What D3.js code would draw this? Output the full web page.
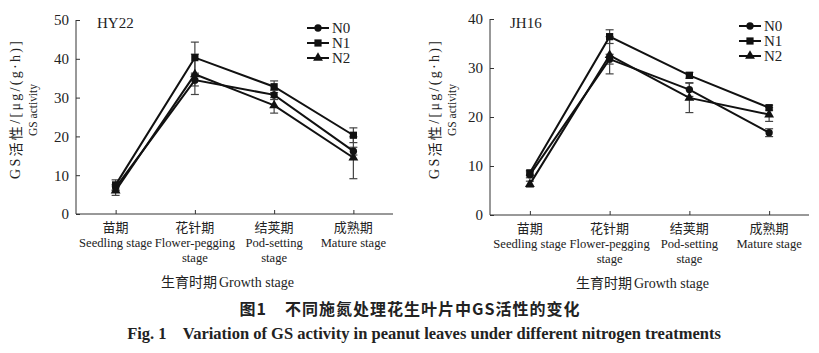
<!DOCTYPE html>
<html>
<head>
<meta charset="utf-8">
<script src="https://cdn.jsdelivr.net/npm/d3@7"></script>
<style>
  body { margin: 0; background: #fff; }
  svg { display: block; }
  text { font-family: "Liberation Serif", "Noto Sans CJK SC", serif; fill: #222; }
</style>
</head>
<body>
<div id="chart"></div>
<script>
const stagesCn = ['苗期', '花针期', '结荚期', '成熟期'];
const stagesEn = [['Seedling stage'], ['Flower-pegging', 'stage'], ['Pod-setting', 'stage'], ['Mature stage']];
const seriesNames = ['N0', 'N1', 'N2'];

// HY22
const hyN0 = [6.8, 34.5, 30.7, 16.2];
const hyN1 = [7.5, 40.3, 32.8, 20.3];
const hyN2 = [6.0, 36.0, 28.0, 14.5];
const hyErrN0 = [0.8, 1.5, 1.2, 1.0];
const hyErrN1 = [1.3, 4.0, 1.5, 1.9];
const hyErrN2 = [1.2, 5.2, 2.0, 5.4];
const hyTicks = [0, 10, 20, 30, 40, 50];

// JH16
const jhN0 = [8.2, 31.8, 25.6, 16.8];
const jhN1 = [8.6, 36.4, 28.5, 21.9];
const jhN2 = [6.3, 32.6, 23.9, 20.5];
const jhErrN0 = [0.6, 1.0, 1.4, 0.8];
const jhErrN1 = [0.5, 1.4, 0.6, 0.5];
const jhErrN2 = [0.6, 3.8, 3.0, 1.4];
const jhTicks = [0, 10, 20, 30, 40];

const width = 819, height = 353;
const svg = d3.select('#chart').append('svg')
    .attr('width', width)
    .attr('height', height);

const symbols = [d3.symbolCircle, d3.symbolSquare, d3.symbolTriangle];
const symbolSizes = [42, 52, 42];

function drawPanel(opts) {
    const g = svg.append('g');
    const x = d3.scalePoint().domain(stagesCn).range([opts.x0, opts.x1]).padding(0.5);
    const y = d3.scaleLinear().domain([0, opts.yMax]).range([opts.yBottom, opts.yTop]);

    // axes, ticks point inward
    const yAxis = g.append('g')
        .attr('transform', `translate(${opts.x0},0)`)
        .call(d3.axisRight(y).tickValues(opts.ticks).tickSize(4).tickFormat(d3.format('d')));
    yAxis.select('.domain').attr('d', `M0,${opts.yTop}V${opts.yBottom}`).attr('stroke', '#333');
    yAxis.selectAll('.tick line').attr('stroke', '#333');
    yAxis.selectAll('.tick text')
        .attr('x', -7).attr('text-anchor', 'end')
        .style('font-size', '15px').style('font-family', '"Liberation Serif", serif').attr('fill', '#222');

    const xAxis = g.append('g')
        .attr('transform', `translate(0,${opts.yBottom})`)
        .call(d3.axisTop(x).tickSize(4).tickFormat(''));
    xAxis.select('.domain').attr('d', `M${opts.x0},0H${opts.x1}`).attr('stroke', '#333');
    xAxis.selectAll('.tick line').attr('stroke', '#333');

    // category labels
    stagesCn.forEach((s, i) => {
        const t = g.append('text')
            .attr('x', x(s))
            .attr('text-anchor', 'middle')
            .style('font-size', '12.6px');
        t.append('tspan').attr('x', x(s)).attr('y', opts.yBottom + 18)
            .style('font-family', '"Noto Sans CJK SC", sans-serif').style('font-size', '13px').text(s);
        stagesEn[i].forEach((line, j) => {
            t.append('tspan').attr('x', x(s)).attr('y', opts.yBottom + 33 + j * 15).text(line);
        });
    });

    // x title
    const xt = g.append('text')
        .attr('x', (opts.x0 + opts.x1) / 2 - 7)
        .attr('y', opts.yBottom + 73)
        .attr('text-anchor', 'middle')
        .style('font-size', '14px');
    xt.append('tspan').style('font-family', '"Noto Sans CJK SC", sans-serif').text('生育时期');
    xt.append('tspan').attr('dx', 2).text('Growth stage');

    // y title, two rotated lines
    const yt = g.append('g').attr('transform', `translate(${opts.titleX},${opts.titleY}) rotate(-90)`);
    const l1 = yt.append('text')
        .attr('text-anchor', 'middle').attr('dominant-baseline', 'central')
        .attr('textLength', 138).attr('lengthAdjust', 'spacing')
        .style('font-size', '14px');
    l1.append('tspan').text('GS');
    l1.append('tspan').style('font-family', '"Noto Sans CJK SC", sans-serif').text('活性');
    l1.append('tspan').text('/[μg/(g·h)]');
    yt.append('text')
        .attr('y', 17)
        .attr('text-anchor', 'middle').attr('dominant-baseline', 'central')
        .attr('textLength', 52).attr('lengthAdjust', 'spacingAndGlyphs')
        .style('font-size', '13.5px')
        .text('GS activity');

    // panel label
    g.append('text')
        .attr('x', opts.labelX).attr('y', 28)
        .style('font-size', '15px')
        .text(opts.label);

    const series = opts.values.map((vals, k) => ({
        name: seriesNames[k],
        points: vals.map((v, i) => ({stage: stagesCn[i], value: v, err: opts.errs[k][i]}))
    }));

    // error bars
    const cap = 4;
    series.forEach(s => {
        const eb = g.append('g').attr('stroke', '#444').attr('stroke-width', 1.2);
        s.points.forEach(p => {
            const cx = x(p.stage);
            const yHi = y(p.value + p.err), yLo = y(p.value - p.err);
            eb.append('line').attr('x1', cx).attr('x2', cx).attr('y1', yHi).attr('y2', yLo);
            eb.append('line').attr('x1', cx - cap).attr('x2', cx + cap).attr('y1', yHi).attr('y2', yHi);
            eb.append('line').attr('x1', cx - cap).attr('x2', cx + cap).attr('y1', yLo).attr('y2', yLo);
        });
    });

    // lines + markers
    const line = d3.line().x(d => x(d.stage)).y(d => y(d.value));
    series.forEach((s, k) => {
        g.append('path')
            .datum(s.points)
            .attr('fill', 'none')
            .attr('stroke', '#111')
            .attr('stroke-width', 2)
            .attr('d', line);
        g.selectAll(null)
            .data(s.points)
            .enter().append('path')
            .attr('transform', d => `translate(${x(d.stage)},${y(d.value)})`)
            .attr('d', d3.symbol().type(symbols[k]).size(symbolSizes[k]))
            .attr('fill', '#111');
    });

    // legend
    const legend = g.append('g');
    seriesNames.forEach((name, k) => {
        const ly = opts.legendY + k * 15;
        legend.append('line')
            .attr('x1', opts.legendX).attr('x2', opts.legendX + 22)
            .attr('y1', ly).attr('y2', ly)
            .attr('stroke', '#111').attr('stroke-width', 2);
        legend.append('path')
            .attr('transform', `translate(${opts.legendX + 11},${ly})`)
            .attr('d', d3.symbol().type(symbols[k]).size(symbolSizes[k]))
            .attr('fill', '#111');
        legend.append('text')
            .attr('x', opts.legendX + 25).attr('y', ly)
            .attr('dominant-baseline', 'central')
            .style('font-size', '15px')
            .text(name);
    });
}

drawPanel({
    x0: 76, x1: 393, yTop: 20, yBottom: 214, yMax: 50, ticks: hyTicks,
    values: [hyN0, hyN1, hyN2], errs: [hyErrN0, hyErrN1, hyErrN2],
    label: 'HY22', labelX: 97,
    legendX: 307, legendY: 28,
    titleX: 15, titleY: 110
});

drawPanel({
    x0: 490, x1: 809, yTop: 19, yBottom: 215, yMax: 40, ticks: jhTicks,
    values: [jhN0, jhN1, jhN2], errs: [jhErrN0, jhErrN1, jhErrN2],
    label: 'JH16', labelX: 510,
    legendX: 739, legendY: 26,
    titleX: 434, titleY: 110
});

// caption
const cap1 = svg.append('text')
    .attr('x', 410).attr('y', 315)
    .attr('text-anchor', 'middle')
    .style('font-family', '"Noto Sans CJK SC", sans-serif')
    .style('font-size', '16px')
    .style('font-weight', 'bold')
    .style('letter-spacing', '1px')
    .style('white-space', 'pre');
cap1.append('tspan').text('图1');
cap1.append('tspan').attr('dx', 18).text('不同施氮处理花生叶片中GS活性的变化');

svg.append('text')
    .attr('x', 424).attr('y', 339)
    .attr('text-anchor', 'middle')
    .style('font-size', '16.5px')
    .style('font-weight', 'bold')
    .style('white-space', 'pre')
    .text('Fig. 1    Variation of GS activity in peanut leaves under different nitrogen treatments');
</script>
</body>
</html>
